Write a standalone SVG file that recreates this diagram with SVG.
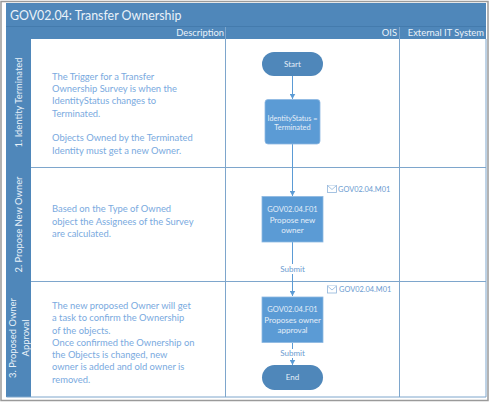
<svg xmlns="http://www.w3.org/2000/svg" width="491" height="403" viewBox="0 0 491 403">
<style>
text{font-family:Lato,"Open Sans","Liberation Sans",sans-serif}
.hd{fill:#4f87ba}
.ln{stroke:#7ea6cc;stroke-width:1;fill:none}
.w{fill:#eaf2f9;font-size:9.400px}
.d{fill:#7aaae0;font-size:9.400px}
.sw{fill:#eaf2f9;font-size:9.400px;text-anchor:middle}
.n{fill:#e4eef8;font-size:8px;text-anchor:middle}
.c1{font-size:7.500px}
.t{fill:#5b9bd5;stroke:#8db8e2;stroke-width:.8}
.p{fill:#4f87ba}
.c{stroke:#5b9bd5;stroke-width:1;fill:none;marker-end:url(#a)}
.l{fill:#6a9bd0;font-size:8px}
.m{fill:#6a9bd0;font-size:7.400px}
.e{fill:#fff;stroke:#8fb4da;stroke-width:.8}
</style>
<defs><marker id="a" markerUnits="userSpaceOnUse" markerWidth="6" markerHeight="6" refX="5.500" refY="3" orient="auto"><path d="M0 0L5.500 3L0 6z" fill="#5b9bd5"/></marker></defs>
<rect x="0" y="0" width="491" height="403" fill="#fff"/>
<rect x="1" y="1.500" width="487" height="399" fill="#fff" stroke="#9a9a9a" stroke-width="1.500"/>
<g id="frame">
<rect class="hd" x="6" y="3" width="480" height="36"/>
<rect class="hd" x="6" y="39" width="25" height="358"/>
<path d="M6 26.500H486" stroke="#3f76a8" stroke-width=".7"/>
<path class="ln" d="M6.500 397H486M31 167.500H486M31 281.500H486M225.500 27V397M399.500 27V397M486 39V397"/>
<text x="10" y="19.500" fill="#eaf2f9" style="font-size:12.400px">GOV02.04: Transfer Ownership</text>
<text class="w" x="224" y="36" text-anchor="end">Description</text>
<text class="w" x="397" y="36" text-anchor="end">OIS</text>
<text class="w" x="484" y="36" text-anchor="end">External IT System</text>
</g>
<g id="lane1"><text class="sw" transform="translate(22 102.500) rotate(-90)">1. Identity Terminated</text>
<text class="d" x="52" y="80">The Trigger for a Transfer</text>
<text class="d" x="52" y="92">Ownership Survey is when the</text>
<text class="d" x="52" y="104">IdentityStatus changes to</text>
<text class="d" x="52" y="117">Terminated.</text>
<text class="d" x="52" y="141">Objects Owned by the Terminated</text>
<text class="d" x="52" y="154">Identity must get a new Owner.</text></g>
<g id="lane2"><text class="sw" transform="translate(22 224.500) rotate(-90)">2. Propose New Owner</text>
<text class="d" x="52" y="212">Based on the Type of Owned</text>
<text class="d" x="52" y="225">object the Assignees of the Survey</text>
<text class="d" x="52" y="237">are calculated.</text></g>
<g id="lane3"><text class="sw" transform="translate(16 338) rotate(-90)"><tspan x="0" y="0">3. Proposed Owner</tspan><tspan x="0" y="12.500">Approval</tspan></text>
<text class="d" x="52" y="309">The new proposed Owner will get</text>
<text class="d" x="52" y="321">a task to confirm the Ownership</text>
<text class="d" x="52" y="334">of the objects.</text>
<text class="d" x="52" y="346">Once confirmed the Ownership on</text>
<text class="d" x="52" y="358">the Objects is changed, new</text>
<text class="d" x="52" y="370">owner is added and old owner is</text>
<text class="d" x="52" y="383">removed.</text></g>
<g id="connectors">
<path class="c" d="M292.500 76V99"/>
<path class="c" d="M292.500 144V196"/>
<path class="c" d="M292.500 242V296"/>
<path class="c" d="M292.500 343V365"/>
</g>
<g id="start"><rect class="p" x="262" y="52" width="61" height="24" rx="12"/><text class="n" x="292.500" y="66.500">Start</text></g>
<g id="identity"><rect class="t" x="265" y="99.500" width="55" height="44.500" rx="3"/><text class="n" x="292.500" y="120.500" style="font-size:7.200px">IdentityStatus =</text><text class="n" x="292.500" y="129.500" style="font-size:7.400px">Terminated</text></g>
<g id="f01a"><rect class="t" x="262" y="196.500" width="61" height="45.500"/><text class="n c1" x="292.500" y="212">GOV02.04.F01</text><text class="n" x="292.500" y="222.500">Propose new</text><text class="n" x="292.500" y="233">owner</text></g>
<g id="f01b"><rect class="t" x="262" y="297" width="61" height="45.500"/><text class="n c1" x="292.500" y="312">GOV02.04.F01</text><text class="n" x="292.500" y="322.500">Proposes owner</text><text class="n" x="292.500" y="333">approval</text></g>
<g id="end"><rect class="p" x="262" y="365" width="61" height="25" rx="12.500"/><text class="n" x="292.500" y="380">End</text></g>
<g id="labels">
<rect x="278" y="264" width="29" height="10" fill="#fff"/><text class="l" x="292.500" y="272" text-anchor="middle">Submit</text>
<rect x="278" y="349" width="29" height="9" fill="#fff"/><text class="l" x="292.500" y="356" text-anchor="middle">Submit</text>
</g>
<g id="msg1"><rect class="e" x="327.500" y="185.500" width="9" height="7"/><path class="e" fill="none" d="M327.500 185.500L332 189.500L336.500 185.500"/><text class="m" x="338" y="191.500">GOV02.04.M01</text></g>
<g id="msg2"><rect class="e" x="327.500" y="286" width="9" height="7"/><path class="e" fill="none" d="M327.500 286L332 290L336.500 286"/><text class="m" x="339" y="292">GOV02.04.M01</text></g>
</svg>
